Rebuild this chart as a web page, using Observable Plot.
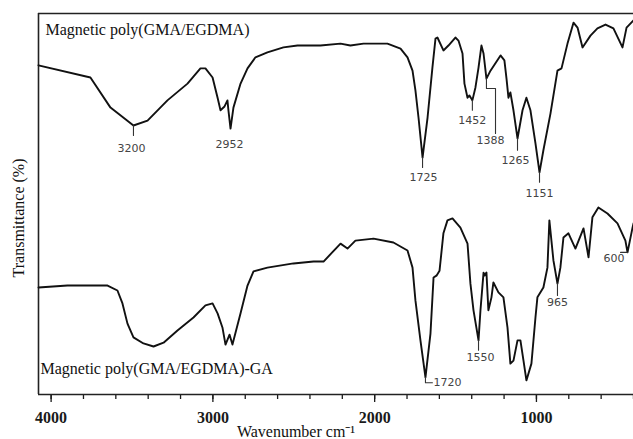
<!DOCTYPE html>
<html><head><meta charset="utf-8">
<script src="https://cdn.jsdelivr.net/npm/d3@7"></script>
<script src="https://cdn.jsdelivr.net/npm/@observablehq/plot@0.6"></script>
<style>body{margin:0;background:#fff}</style>
</head><body><div id="chart"></div>
<script>
// Series 1: Magnetic poly(GMA/EGDMA)
const topWn = [4078,3757,3633,3491,3404,3281,3157,3077,3046,3002,2971,2953,2928,2910,2904,2891,2873,2829,2786,2737,2663,2564,2477,2335,2211,2150,2069,1921,1840,1797,1766,1748,1729,1704,1673,1643,1624,1612,1575,1544,1501,1482,1457,1445,1426,1414,1396,1377,1358,1340,1327,1309,1284,1222,1198,1185,1173,1161,1142,1117,1086,1062,1037,1006,981,957,913,870,845,808,771,746,715,666,623,573,524,468,443,400];
const topT  = [86.4,83.2,75.3,70.6,71.9,77.2,81.6,85.6,85.6,83.2,77.9,74.6,75.6,77.2,74.6,69.8,75.3,81.6,85.6,88.5,89.8,91.1,91.6,91.6,92.1,91.6,92.1,92.1,90.8,88.5,85.0,79.8,72.7,62.2,72.7,85.8,93.4,93.7,90.3,91.6,93.7,92.9,89.5,81.6,77.9,78.5,77.2,80.6,85.8,91.6,89.5,82.9,85.0,89.0,87.7,82.9,77.9,79.3,74.6,67.2,74.6,77.9,74.6,65.9,58.3,64.1,73.8,85.0,85.6,92.1,97.6,96.3,91.1,94.2,96.1,97.1,96.1,91.1,96.3,98.2];
// Series 2: Magnetic poly(GMA/EGDMA)-GA
const botWn = [4078,3899,3651,3590,3559,3528,3491,3429,3367,3305,3219,3120,3046,3002,2971,2941,2922,2897,2879,2829,2786,2749,2663,2502,2378,2316,2211,2168,2119,2007,1884,1797,1766,1748,1717,1686,1655,1636,1618,1599,1575,1550,1519,1470,1426,1408,1389,1358,1346,1327,1321,1309,1297,1278,1266,1235,1204,1179,1161,1142,1117,1099,1080,1062,1031,1006,994,957,932,920,895,870,852,833,802,759,709,678,654,617,561,499,450,437,406,400];
const botT  = [28.1,28.6,28.6,27.3,23.9,18.6,15.0,13.4,12.6,13.6,16.8,20.2,23.4,23.9,21.3,17.6,13.1,15.7,13.1,21.3,28.6,32.3,33.3,34.4,34.9,34.9,39.6,38.3,40.4,40.9,39.9,37.8,33.3,24.7,14.2,4.5,16.0,30.7,31.2,32.5,42.3,45.7,46.2,43.8,39.6,29.1,22.1,14.2,22.1,32.0,31.2,32.0,22.1,25.5,29.4,26.8,25.5,17.6,8.1,8.9,14.2,14.2,8.9,3.7,8.1,20.2,25.5,28.1,33.3,45.7,35.2,29.1,33.3,41.2,42.3,38.3,43.6,36.0,46.5,49.1,47.5,44.9,40.4,37.3,43.8,44.9];

// Peak annotations
const peakText   = ["3200","2952","1725","1452","1388","1265","1151","1720","1550","965","600"];
const peakWn     = [3503,2897,1698,1396,1284,1130,981,1636,1346,870,520];
const peakT      = [64.6,65.6,57.0,71.9,66.7,61.4,52.8,3.1,9.7,24.1,35.8];
const peakAnchor = ["middle","middle","middle","middle","middle","middle","middle","start","middle","middle","middle"];
// Leader lines (id, wavenumber, transmittance)
const leadId = ["3200","3200","1725","1725","1452","1452","1388","1388","1388","1388","1265","1265","1151","1151","1720","1720","1720","1550","1550","965","965","600","600"];
const leadWn = [3491,3491,1704,1704,1396,1396,1309,1309,1253,1253,1117,1117,981,981,1686,1686,1643,1358,1358,870,870,437,480];
const leadT  = [70.6,68.0,62.2,59.6,77.2,74.6,82.9,80.3,80.3,68.5,67.2,64.1,58.3,55.7,4.5,3.1,3.1,14.2,11.6,29.1,26.0,37.3,37.3];

const majorTicks = [4000,3000,2000,1000];
const minorTicks = [4000,3800,3600,3400,3200,3000,2800,2600,2400,2200,2000,1800,1600,1400,1200,1000,800,600,400];

const topData = topWn.map((w,i)=>({wn:w, T:topT[i]}));
const botData = botWn.map((w,i)=>({wn:w, T:botT[i]}));
const peaks = peakText.map((t,i)=>({t, wn:peakWn[i], T:peakT[i], a:peakAnchor[i]}));
const leads = leadId.map((id,i)=>({id, wn:leadWn[i], T:leadT[i]}));

const serif = "'Liberation Serif','Times New Roman',serif";
const chart = Plot.plot({
  width: 633, height: 439,
  marginLeft: 38, marginRight: 0, marginTop: 13, marginBottom: 45,
  style: {fontFamily: serif, fontSize: "16px", background: "#fff", color: "#1a1a1a"},
  x: {domain: [4078, 400], axis: null},
  y: {domain: [0, 100], axis: null},
  marks: [
    Plot.axisX({ticks: minorTicks, tickSize: 5, tickFormat: () => "", label: null, strokeWidth: 1.3}),
    Plot.axisX({ticks: majorTicks, tickSize: 8, tickPadding: 9, label: null, strokeWidth: 1.3, fontSize: 16, fontWeight: "bold", tickFormat: d => String(d)}),
    Plot.ruleY([0, 100], {stroke: "#222", strokeWidth: 1.6}),
    Plot.ruleX([4078], {stroke: "#222", strokeWidth: 1.6}),
    Plot.line(topData, {x: "wn", y: "T", stroke: "#111", strokeWidth: 1.9}),
    Plot.line(botData, {x: "wn", y: "T", stroke: "#111", strokeWidth: 1.9}),
    Plot.line(leads, {x: "wn", y: "T", z: "id", stroke: "#333", strokeWidth: 1.1}),
    Plot.text(peaks.filter(d => d.a === "middle"), {x: "wn", y: "T", text: "t", fontSize: 11, fontFamily: "'DejaVu Sans',sans-serif", fill: "#444", textAnchor: "middle"}),
    Plot.text(peaks.filter(d => d.a === "start"), {x: "wn", y: "T", text: "t", fontSize: 11, fontFamily: "'DejaVu Sans',sans-serif", fill: "#444", textAnchor: "start"}),
    Plot.text(["Magnetic poly(GMA/EGDMA)"], {frameAnchor: "top-left", dx: 7, dy: 16, textAnchor: "start", lineAnchor: "middle", fontSize: 16, fill: "#111"}),
    Plot.text(["Magnetic poly(GMA/EGDMA)-GA"], {frameAnchor: "bottom-left", dx: 2, dy: -26, textAnchor: "start", lineAnchor: "middle", fontSize: 16, fill: "#111"}),
    Plot.text(["Wavenumber cm⁻¹"], {frameAnchor: "bottom", dx: -40, dy: 37, textAnchor: "middle", lineAnchor: "middle", fontSize: 16, fill: "#111"}),
    Plot.text(["Transmittance (%)"], {frameAnchor: "left", rotate: -90, dx: -20, dy: 14, textAnchor: "middle", lineAnchor: "middle", fontSize: 16, fill: "#111"})
  ]
});
document.getElementById("chart").appendChild(chart);
</script>
</body></html>
